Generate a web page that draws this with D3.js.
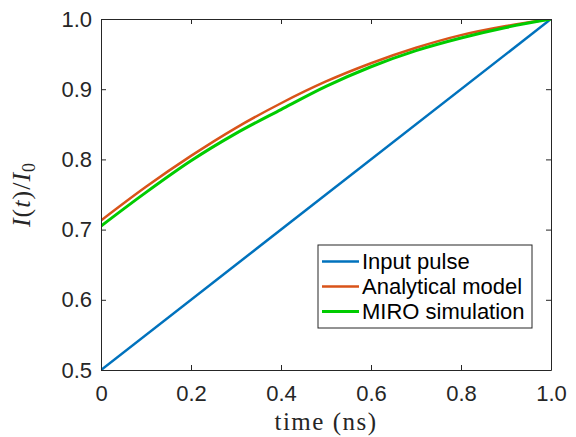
<!DOCTYPE html>
<html>
<head>
<meta charset="utf-8">
<script src="https://cdn.jsdelivr.net/npm/d3@7"></script>
<style>
  body { margin: 0; background: #fff; }
  svg { display: block; }
  .tick text { font-family: "Liberation Sans", Arial, sans-serif; font-size: 22px; fill: #262626; }
</style>
</head>
<body>
<div id="chart"></div>
<script>
const W = 576, H = 437;
const m = {t: 19, r: 25, b: 67, l: 101};

// sample times (ns)
const times = [0, 0.1, 0.2, 0.3, 0.4, 0.5, 0.6, 0.7, 0.8, 0.9, 1.0];
const inputTimes = [0, 1.0];
const inputPulse = [0.5, 1.0];
const analytical = [0.713, 0.761, 0.805, 0.845, 0.880, 0.911, 0.937, 0.959, 0.977, 0.990, 1.000];
const miro = [0.705, 0.753, 0.798, 0.837, 0.871, 0.904, 0.932, 0.955, 0.973, 0.988, 1.000];

const xTicks = [0, 0.2, 0.4, 0.6, 0.8, 1.0];
const xTickLabels = ['0', '0.2', '0.4', '0.6', '0.8', '1.0'];
const yTicks = [0.5, 0.6, 0.7, 0.8, 0.9, 1.0];
const yTickLabels = ['0.5', '0.6', '0.7', '0.8', '0.9', '1.0'];

const seriesNames = ['Input pulse', 'Analytical model', 'MIRO simulation'];
const seriesColors = ['#0072BD', '#D95319', '#00CC00'];
const seriesWidths = [2.5, 2.5, 3];

const w = W - m.l - m.r;
const h = H - m.t - m.b;

const svg = d3.select('#chart').append('svg')
  .attr('width', W)
  .attr('height', H);

const plot = svg.append('g')
  .attr('transform', `translate(${m.l}, ${m.t})`);

const x = d3.scaleLinear().domain([0, 1]).range([0, w]);
const y = d3.scaleLinear().domain([0.5, 1]).range([h, 0]);

// lines
const line = d3.line()
  .x(d => x(d[0]))
  .y(d => y(d[1]))
  .curve(d3.curveMonotoneX);

const seriesData = [
  inputTimes.map((t, i) => [t, inputPulse[i]]),
  times.map((t, i) => [t, analytical[i]]),
  times.map((t, i) => [t, miro[i]])
];

plot.append('defs').append('clipPath').attr('id', 'clip')
  .append('rect').attr('width', w).attr('height', h);

plot.append('g').attr('clip-path', 'url(#clip)')
  .selectAll('.series')
  .data(seriesData)
  .enter()
  .append('path')
  .attr('class', 'series')
  .attr('d', line)
  .attr('fill', 'none')
  .attr('stroke', (d, i) => seriesColors[i])
  .attr('stroke-width', (d, i) => seriesWidths[i]);

// axes, ticks inward on all four sides
function styleAxis(g){
  g.select('.domain').attr('stroke', '#262626').attr('stroke-width', 1);
  g.selectAll('.tick line').attr('stroke', '#262626');
}

plot.append('g')
  .attr('transform', `translate(0, ${h})`)
  .call(d3.axisBottom(x).tickValues(xTicks)
    .tickFormat((d, i) => xTickLabels[i])
    .tickSizeInner(-5).tickSizeOuter(0).tickPadding(15))
  .call(styleAxis);

plot.append('g')
  .call(d3.axisTop(x).tickValues(xTicks).tickFormat('')
    .tickSizeInner(-5).tickSizeOuter(0))
  .call(styleAxis);

plot.append('g')
  .call(d3.axisLeft(y).tickValues(yTicks)
    .tickFormat((d, i) => yTickLabels[i])
    .tickSizeInner(-5).tickSizeOuter(0).tickPadding(9))
  .call(styleAxis);

plot.append('g')
  .attr('transform', `translate(${w}, 0)`)
  .call(d3.axisRight(y).tickValues(yTicks).tickFormat('')
    .tickSizeInner(-5).tickSizeOuter(0))
  .call(styleAxis);

svg.selectAll('.tick text').attr('font-family', null).attr('font-size', null);

// axis labels (LaTeX style)
svg.append('text')
  .attr('x', m.l + w / 2)
  .attr('y', 430)
  .attr('text-anchor', 'middle')
  .style('font-family', '"Liberation Serif", "Times New Roman", serif')
  .style('font-size', '25px')
  .style('letter-spacing', '1.5px')
  .style('fill', '#262626')
  .text('time (ns)');

const yl = svg.append('text')
  .attr('transform', `translate(30, ${m.t + h / 2}) rotate(-90)`)
  .attr('text-anchor', 'middle')
  .style('font-family', '"Liberation Serif", "Times New Roman", serif')
  .style('font-size', '26px')
  .style('letter-spacing', '1px')
  .style('fill', '#262626');
yl.append('tspan').style('font-style', 'italic').text('I');
yl.append('tspan').text('(');
yl.append('tspan').style('font-style', 'italic').text('t');
yl.append('tspan').text(')/');
yl.append('tspan').style('font-style', 'italic').text('I');
yl.append('tspan').attr('dy', 5).style('font-size', '18px').text('0');

// legend
const lg = svg.append('g').attr('transform', 'translate(318, 245)');
lg.append('rect')
  .attr('width', 214)
  .attr('height', 83)
  .attr('fill', '#fff')
  .attr('stroke', '#262626')
  .attr('stroke-width', 1);

const items = lg.selectAll('.item')
  .data(seriesNames)
  .enter()
  .append('g')
  .attr('class', 'item')
  .attr('transform', (d, i) => `translate(0, ${16.5 + i * 25})`);

items.append('line')
  .attr('x1', 4).attr('x2', 41)
  .attr('stroke', (d, i) => seriesColors[i])
  .attr('stroke-width', (d, i) => seriesWidths[i]);

items.append('text')
  .attr('x', 44)
  .attr('dy', '0.35em')
  .style('font-family', '"Liberation Sans", Arial, sans-serif')
  .style('font-size', '22px')
  .style('fill', '#000')
  .text(d => d);
</script>
</body>
</html>
